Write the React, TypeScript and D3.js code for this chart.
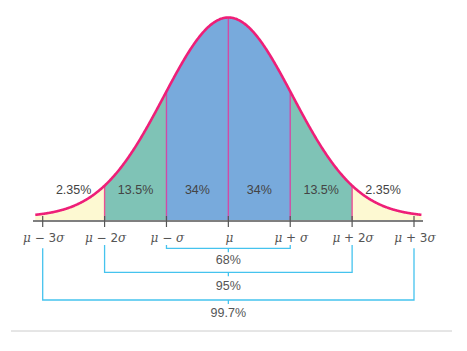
import React from "react";
import * as d3 from "d3";

const sigmaTicks = [-3, -2, -1, 0, 1, 2, 3];
const tickSigns = ["−", "−", "−", "", "+", "+", "+"];
const tickMults = ["3", "2", "", "", "", "2", "3"];
const regionStarts = [-3.12, -2, -1, 0, 1, 2];
const regionEnds = [-2, -1, 0, 1, 2, 3.12];
const regionLabels = ["2.35%", "13.5%", "34%", "34%", "13.5%", "2.35%"];
const regionLabelPos = [-2.5, -1.5, -0.5, 0.5, 1.5, 2.5];
const regionColors = ["#fdf9d2", "#7fc3b6", "#78aadc", "#78aadc", "#7fc3b6", "#fdf9d2"];
const bracketSpans = [1, 2, 3];
const bracketLabels = ["68%", "95%", "99.7%"];

const W = 467, H = 351;
const x = d3.scaleLinear().domain([-3, 3]).range([42.7, 414]);
const y = d3.scaleLinear().domain([0, 1]).range([217, 17.5]);
const base = 220;
const axisY = 221;
const k2 = 1.08;
const dens = (z: number) => Math.exp(-(z * z) / (2 * k2));

const FONT = "'Liberation Sans', Arial, sans-serif";
const SYM = "'DejaVu Serif', serif";

export default function App() {
  const area = (a: number, b: number) =>
    d3
      .area<number>()
      .x((z) => x(z))
      .y0(base)
      .y1((z) => y(dens(z)))(d3.range(a, b, 0.01).concat([b]));
  const line = d3
    .line<number>()
    .x((z) => x(z))
    .y((z) => y(dens(z)))
    .curve(d3.curveBasis)(d3.range(-3.12, 3.12, 0.01).concat([3.12]));

  const bracketY = [248.3, 272.3, 300];
  const bracketTop = [245, 245, 248.3];
  const bracketLabelY = [261, 287, 314];

  return (
    <svg width={W} height={H} style={{ position: "absolute", left: 0, top: 0 }}>
      <rect width={W} height={H} fill="#fff" />
      {regionStarts.map((a, i) => (
        <path key={i} d={area(a, regionEnds[i]) || ""} fill={regionColors[i]} />
      ))}
      {sigmaTicks
        .filter((s) => Math.abs(s) < 3)
        .map((s) => (
          <line
            key={s}
            x1={x(s)}
            x2={x(s)}
            y1={y(dens(s))}
            y2={base}
            stroke={Math.abs(s) === 2 ? "#ec4f92" : "#d04ba6"}
            strokeWidth={1.4}
          />
        ))}
      <path d={line || ""} fill="none" stroke="#ee1f78" strokeWidth={2.6} />
      <line x1={33} x2={423} y1={axisY} y2={axisY} stroke="#555" strokeWidth={1.6} />
      {sigmaTicks.map((s) => (
        <line key={s} x1={x(s)} x2={x(s)} y1={216} y2={227} stroke="#555" strokeWidth={1.2} />
      ))}
      {regionLabels.map((t, i) => (
        <text
          key={i}
          x={x(regionLabelPos[i])}
          y={191}
          textAnchor="middle"
          dominantBaseline="middle"
          fontFamily={FONT}
          fontSize={12.5}
          fill="#444"
        >
          {t}
        </text>
      ))}
      {sigmaTicks.map((s, i) => (
        <text
          key={s}
          x={x(s) + 1}
          y={238}
          textAnchor="middle"
          dominantBaseline="middle"
          fontFamily="'DejaVu Sans', sans-serif"
          fontSize={12}
          fill="#555"
        >
          <tspan fontStyle="italic" fontFamily={SYM}>μ</tspan>
          {tickSigns[i] ? <tspan>{" " + tickSigns[i] + " " + tickMults[i]}</tspan> : null}
          {tickSigns[i] ? <tspan fontStyle="italic" fontFamily={SYM}>σ</tspan> : null}
        </text>
      ))}
      {bracketSpans.map((n, i) => (
        <g key={n} stroke="#45c3ee" strokeWidth={1.3} fill="none">
          <path d={`M${x(-n)},${bracketTop[i]}V${bracketY[i]}H${x(n)}V${bracketTop[i]}`} />
          <line x1={x(0)} x2={x(0)} y1={bracketY[i]} y2={bracketY[i] + 4} />
        </g>
      ))}
      {bracketLabels.map((t, i) => (
        <text
          key={t}
          x={x(0)}
          y={bracketLabelY[i]}
          textAnchor="middle"
          dominantBaseline="middle"
          fontFamily={FONT}
          fontSize={12.5}
          fill="#555"
        >
          {t}
        </text>
      ))}
      <line x1={11} x2={452} y1={331} y2={331} stroke="#ccc" strokeWidth={1} />
    </svg>
  );
}
